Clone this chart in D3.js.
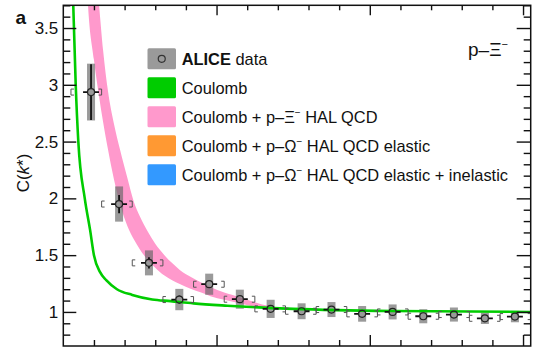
<!DOCTYPE html>
<html>
<head>
<meta charset="utf-8">
<script src="https://cdn.jsdelivr.net/npm/d3@7"></script>
<style>
  html, body { margin: 0; padding: 0; background: #fff; }
  svg { display: block; font-family: "Liberation Sans", Arial, sans-serif; }
</style>
</head>
<body>
<div id="chart"></div>
<script>
// p-Xi- correlation function, ALICE data vs. Coulomb / HAL QCD

// data points (k* in MeV/c)
const kData = [18.1, 36.4, 55.9, 75.7, 95.2, 115.2, 135.3, 155.5, 175, 195, 214.9, 234.9, 254.9, 275.1, 294.7];
const cData = [2.936, 1.95, 1.432, 1.109, 1.244, 1.112, 1.027, 1.006, 1.021, 0.983, 1.0, 0.962, 0.977, 0.944, 0.959];
const statErr = [0.245, 0.08, 0.05, 0.035, 0.03, 0.025, 0.022, 0.02, 0.02, 0.02, 0.018, 0.018, 0.018, 0.017, 0.017];
const systErr = [0.25, 0.155, 0.11, 0.094, 0.093, 0.084, 0.08, 0.07, 0.066, 0.069, 0.066, 0.062, 0.062, 0.05, 0.05];
const binLo = [5, 25, 45, 65, 85, 105, 125, 145, 165, 185, 205, 225, 245, 265, 285];
const binHi = [25, 45, 65, 85, 105, 125, 145, 165, 185, 205, 225, 245, 265, 285, 305];
const kErr = 5.2;

// Coulomb curve
const coulK = [6.5, 8.1, 9.8, 14, 17.5, 20, 24, 28, 35, 45, 58, 70, 85, 107, 150, 215, 305];
const coulC = [3.7, 3.0, 2.5, 2.0, 1.72, 1.5, 1.35, 1.28, 1.20, 1.15, 1.11, 1.095, 1.075, 1.055, 1.027, 1.008, 1.0];

// Coulomb + p-Xi HAL QCD band
const halK = [14, 16.1, 20, 23.3, 26, 29.2, 33, 37, 42, 46, 50, 55, 60, 66, 71, 76, 83, 90, 96, 105, 115, 124, 135, 150, 200, 305];
const halLo = [4.3, 3.707, 3.22, 2.90, 2.67, 2.427, 2.17, 1.95, 1.75, 1.64, 1.55, 1.46, 1.39, 1.32, 1.28, 1.245, 1.205, 1.17, 1.139, 1.107, 1.077, 1.048, 1.03, 1.022, 1.007, 1.0];
const halHi = [5.0, 4.8, 4.2, 3.707, 3.30, 2.94, 2.66, 2.43, 2.17, 1.97, 1.84, 1.71, 1.60, 1.50, 1.43, 1.37, 1.31, 1.26, 1.22, 1.17, 1.13, 1.09, 1.05, 1.028, 1.008, 1.001];

// axes
const yMajor = [1, 1.5, 2, 2.5, 3, 3.5];
const yTickLabels = ['1', '1.5', '2', '2.5', '3', '3.5'];
const yMinor = d3.range(8, 38).map(d => d / 10).filter(d => !yMajor.includes(d));
const xMajor = [100, 200, 300];
const xMinor = d3.range(20, 301, 20).filter(d => !xMajor.includes(d));

// legend
const legendColors = ['#9a9a9a', '#00cc00', '#ff99cc', '#ff9933', '#3399ff'];

const width = 538;
const height = 351;
const plot = { left: 63.3, right: 530.7, top: 5.3, bottom: 346 };

const svg = d3.select('#chart').append('svg')
    .attr('width', width)
    .attr('height', height);

const x = d3.scaleLinear().domain([0, 305]).range([plot.left, plot.right]);
const y = d3.scaleLinear().domain([0.7, 3.7]).range([plot.bottom, plot.top]);

svg.append('clipPath').attr('id', 'clip')
    .append('rect')
    .attr('x', plot.left).attr('y', plot.top)
    .attr('width', plot.right - plot.left)
    .attr('height', plot.bottom - plot.top);

const area = svg.append('g').attr('clip-path', 'url(#clip)');

// HAL QCD band
area.append('path')
    .datum(halK.map((k, i) => ({ k, lo: halLo[i], hi: halHi[i] })))
    .attr('d', d3.area()
        .x(d => x(d.k))
        .y0(d => y(d.lo))
        .y1(d => y(d.hi))
        .curve(d3.curveMonotoneX))
    .attr('fill', '#ff99cc')
    .attr('stroke', 'none');

// systematic boxes
const pts = kData.map((k, i) => ({
    k, c: cData[i], stat: statErr[i], syst: systErr[i], lo: binLo[i], hi: binHi[i],
}));

area.append('g').selectAll('rect')
    .data(pts)
    .join('rect')
    .attr('x', d => x(d.k) - 4)
    .attr('width', 8)
    .attr('y', d => y(d.c + d.syst))
    .attr('height', d => y(d.c - d.syst) - y(d.c + d.syst))
    .attr('fill', '#666')
    .attr('fill-opacity', 0.66);

// Coulomb
area.append('path')
    .datum(coulK.map((k, i) => [k, coulC[i]]))
    .attr('d', d3.line().x(d => x(d[0])).y(d => y(d[1])).curve(d3.curveMonotoneX))
    .attr('fill', 'none')
    .attr('stroke', '#00cc00')
    .attr('stroke-width', 2.6);

// bin brackets
area.append('g').selectAll('path')
    .data(pts)
    .join('path')
    .attr('d', d => {
        const yy = y(d.c), xl = x(d.lo), xr = x(d.hi);
        return `M${xl + 3},${yy - 3}H${xl}V${yy + 3}H${xl + 3}` +
            `M${xr - 3},${yy - 3}H${xr}V${yy + 3}H${xr - 3}`;
    })
    .attr('fill', 'none')
    .attr('stroke', '#555')
    .attr('stroke-width', 1);

// stat error bars + markers
const r = 3.5;
const bars = area.append('g').attr('stroke', '#111').attr('stroke-width', 1.8);
pts.forEach(d => {
    const cx = x(d.k), cy = y(d.c);
    const yt = y(d.c + d.stat), yb = y(d.c - d.stat);
    const xl = x(d.k - kErr), xr = x(d.k + kErr);
    let p = `M${xl},${cy}H${cx - r}M${cx + r},${cy}H${xr}`;
    if (cy - yt > r) p += `M${cx},${yt}V${cy - r}M${cx},${cy + r}V${yb}`;
    bars.append('path').attr('d', p).attr('fill', 'none');
});
area.append('g').selectAll('circle')
    .data(pts)
    .join('circle')
    .attr('cx', d => x(d.k))
    .attr('cy', d => y(d.c))
    .attr('r', r)
    .attr('fill', 'none')
    .attr('stroke', '#222')
    .attr('stroke-width', 1.2);

// axes with inward ticks
const fontFamily = '"Liberation Sans", Arial, sans-serif';
const clean = g => g.select('.domain').remove();

svg.append('g')
    .attr('transform', `translate(${plot.left},0)`)
    .call(d3.axisLeft(y).tickValues(yMajor).tickSize(-13).tickPadding(5)
        .tickFormat((d, i) => yTickLabels[i]))
    .call(clean)
    .call(g => g.selectAll('text').attr('font-size', 17).attr('font-family', fontFamily).attr('fill', '#111'));
svg.append('g')
    .attr('transform', `translate(${plot.left},0)`)
    .call(d3.axisLeft(y).tickValues(yMinor).tickSize(-7).tickFormat(''))
    .call(clean);
svg.append('g')
    .attr('transform', `translate(${plot.right},0)`)
    .call(d3.axisRight(y).tickValues(yMajor).tickSize(-14).tickFormat(''))
    .call(clean);
svg.append('g')
    .attr('transform', `translate(${plot.right},0)`)
    .call(d3.axisRight(y).tickValues(yMinor).tickSize(-7).tickFormat(''))
    .call(clean);
svg.append('g')
    .attr('transform', `translate(0,${plot.bottom})`)
    .call(d3.axisBottom(x).tickValues(xMajor).tickSize(-11).tickFormat(''))
    .call(clean);
svg.append('g')
    .attr('transform', `translate(0,${plot.bottom})`)
    .call(d3.axisBottom(x).tickValues(xMinor).tickSize(-6).tickFormat(''))
    .call(clean);
svg.append('g')
    .attr('transform', `translate(0,${plot.top})`)
    .call(d3.axisTop(x).tickValues(xMajor).tickSize(-10).tickFormat(''))
    .call(clean);
svg.append('g')
    .attr('transform', `translate(0,${plot.top})`)
    .call(d3.axisTop(x).tickValues(xMinor).tickSize(-5).tickFormat(''))
    .call(clean);
svg.selectAll('.tick line').attr('stroke', '#111').attr('stroke-width', 1.4);

svg.append('rect')
    .attr('x', plot.left).attr('y', plot.top)
    .attr('width', plot.right - plot.left)
    .attr('height', plot.bottom - plot.top)
    .attr('fill', 'none')
    .attr('stroke', '#111')
    .attr('stroke-width', 1.5);

// panel label and axis title
svg.append('text')
    .attr('x', 15.5).attr('y', 24)
    .attr('font-size', 19).attr('font-weight', 'bold').attr('fill', '#111')
    .text('a');

const yTitle = svg.append('text')
    .attr('transform', 'translate(29,173) rotate(-90)')
    .attr('text-anchor', 'middle')
    .attr('font-size', 17).attr('fill', '#111');
yTitle.append('tspan').text('C(');
yTitle.append('tspan').attr('font-style', 'italic').text('k');
yTitle.append('tspan').text('*)');

// system label
const sys = svg.append('text')
    .attr('x', 468).attr('y', 56)
    .attr('font-size', 19).attr('fill', '#111');
sys.append('tspan').text('p–Ξ');
sys.append('tspan').attr('font-size', 11).attr('dy', -8).text('−');

// legend
const legendX = 147.5;
const legendY = [48.3, 77.3, 106.3, 135.3, 164.3];
const leg = svg.append('g').attr('font-size', 16.4).attr('fill', '#111');
legendColors.forEach((c, i) => {
    leg.append('rect')
        .attr('x', legendX).attr('y', legendY[i])
        .attr('width', 28.5).attr('height', 21)
        .attr('rx', 1.5)
        .attr('fill', c);
});
leg.append('circle')
    .attr('cx', legendX + 14.25).attr('cy', legendY[0] + 10.5)
    .attr('r', 3.5).attr('fill', 'none').attr('stroke', '#333').attr('stroke-width', 1.2);

const lt = i => leg.append('text').attr('x', 181.7).attr('y', legendY[i] + 16.7);
const t0 = lt(0);
t0.append('tspan').attr('font-weight', 'bold').text('ALICE');
t0.append('tspan').text(' data');
lt(1).text('Coulomb');
const sup = (t, base, rest) => {
    t.append('tspan').text(base);
    t.append('tspan').attr('font-size', 10).attr('dy', -7).text('−');
    t.append('tspan').attr('dy', 7).text(rest);
};
sup(lt(2), 'Coulomb + p–Ξ', ' HAL QCD');
sup(lt(3), 'Coulomb + p–Ω', ' HAL QCD elastic');
sup(lt(4), 'Coulomb + p–Ω', ' HAL QCD elastic + inelastic');
</script>
</body>
</html>
